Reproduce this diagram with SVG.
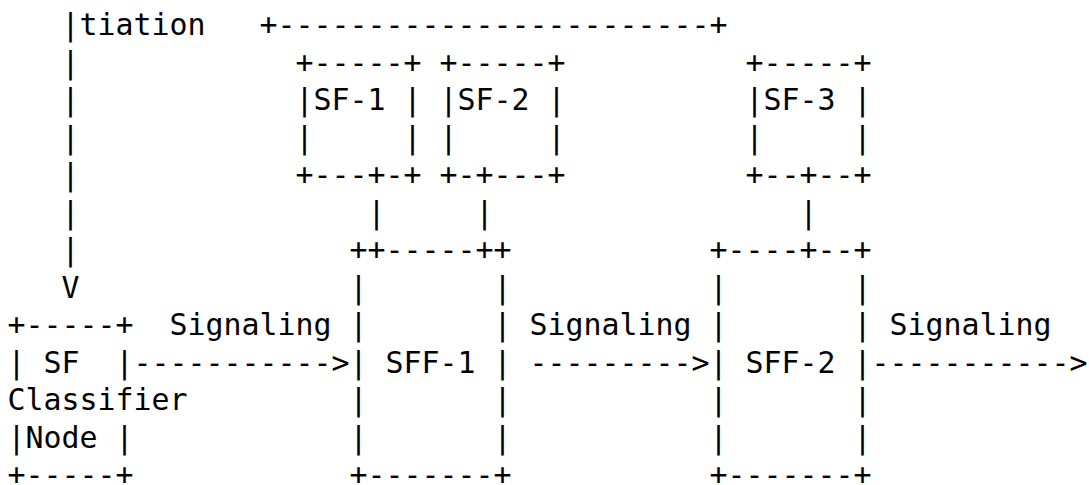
<svg xmlns="http://www.w3.org/2000/svg" width="1089" height="485" viewBox="0 0 1089 485" xml:space="preserve">
<style>
text { font-family: "DejaVu Sans Mono", "Liberation Mono", monospace; font-size: 29.9px; fill: #000; white-space: pre; }
</style>
<rect width="1089" height="485" fill="#fff"/>
<g id="connectors">
  <text x="61.5" y="35">|</text>
  <text x="61.5" y="72.5">|</text>
  <text x="61.5" y="110">|</text>
  <text x="61.5" y="147.5">|</text>
  <text x="61.5" y="185">|</text>
  <text x="61.5" y="222.5">|</text>
  <text x="61.5" y="260">|</text>
  <text x="61.5" y="297.5">V</text>
  <text x="79.5" y="35">tiation</text>
  <text x="259.5" y="35">+------------------------+</text>
  <text x="367.5" y="222.5">|</text>
  <text x="475.5" y="222.5">|</text>
  <text x="799.5" y="222.5">|</text>
  <text x="169.5" y="335">Signaling</text>
  <text x="133.5" y="372.5">-----------&gt;</text>
  <text x="529.5" y="335">Signaling</text>
  <text x="529.5" y="372.5">---------&gt;</text>
  <text x="889.5" y="335">Signaling</text>
  <text x="871.5" y="372.5">-----------&gt;</text>
</g>
<g id="classifier">
  <text x="7.5" y="335">+-----+</text>
  <text x="7.5" y="372.5">| SF  |</text>
  <text x="7.5" y="410">Classifier</text>
  <text x="7.5" y="447.5">|Node |</text>
  <text x="7.5" y="485">+-----+</text>
</g>
<g id="sf1">
  <text x="295.5" y="72.5">+-----+</text>
  <text x="295.5" y="110">|SF-1 |</text>
  <text x="295.5" y="147.5">|     |</text>
  <text x="295.5" y="185">+---+-+</text>
</g>
<g id="sf2">
  <text x="439.5" y="72.5">+-----+</text>
  <text x="439.5" y="110">|SF-2 |</text>
  <text x="439.5" y="147.5">|     |</text>
  <text x="439.5" y="185">+-+---+</text>
</g>
<g id="sf3">
  <text x="745.5" y="72.5">+-----+</text>
  <text x="745.5" y="110">|SF-3 |</text>
  <text x="745.5" y="147.5">|     |</text>
  <text x="745.5" y="185">+--+--+</text>
</g>
<g id="sff1">
  <text x="349.5" y="260">++-----++</text>
  <text x="349.5" y="297.5">|       |</text>
  <text x="349.5" y="335">|       |</text>
  <text x="349.5" y="372.5">| SFF-1 |</text>
  <text x="349.5" y="410">|       |</text>
  <text x="349.5" y="447.5">|       |</text>
  <text x="349.5" y="485">+-------+</text>
</g>
<g id="sff2">
  <text x="709.5" y="260">+----+--+</text>
  <text x="709.5" y="297.5">|       |</text>
  <text x="709.5" y="335">|       |</text>
  <text x="709.5" y="372.5">| SFF-2 |</text>
  <text x="709.5" y="410">|       |</text>
  <text x="709.5" y="447.5">|       |</text>
  <text x="709.5" y="485">+-------+</text>
</g>
</svg>
